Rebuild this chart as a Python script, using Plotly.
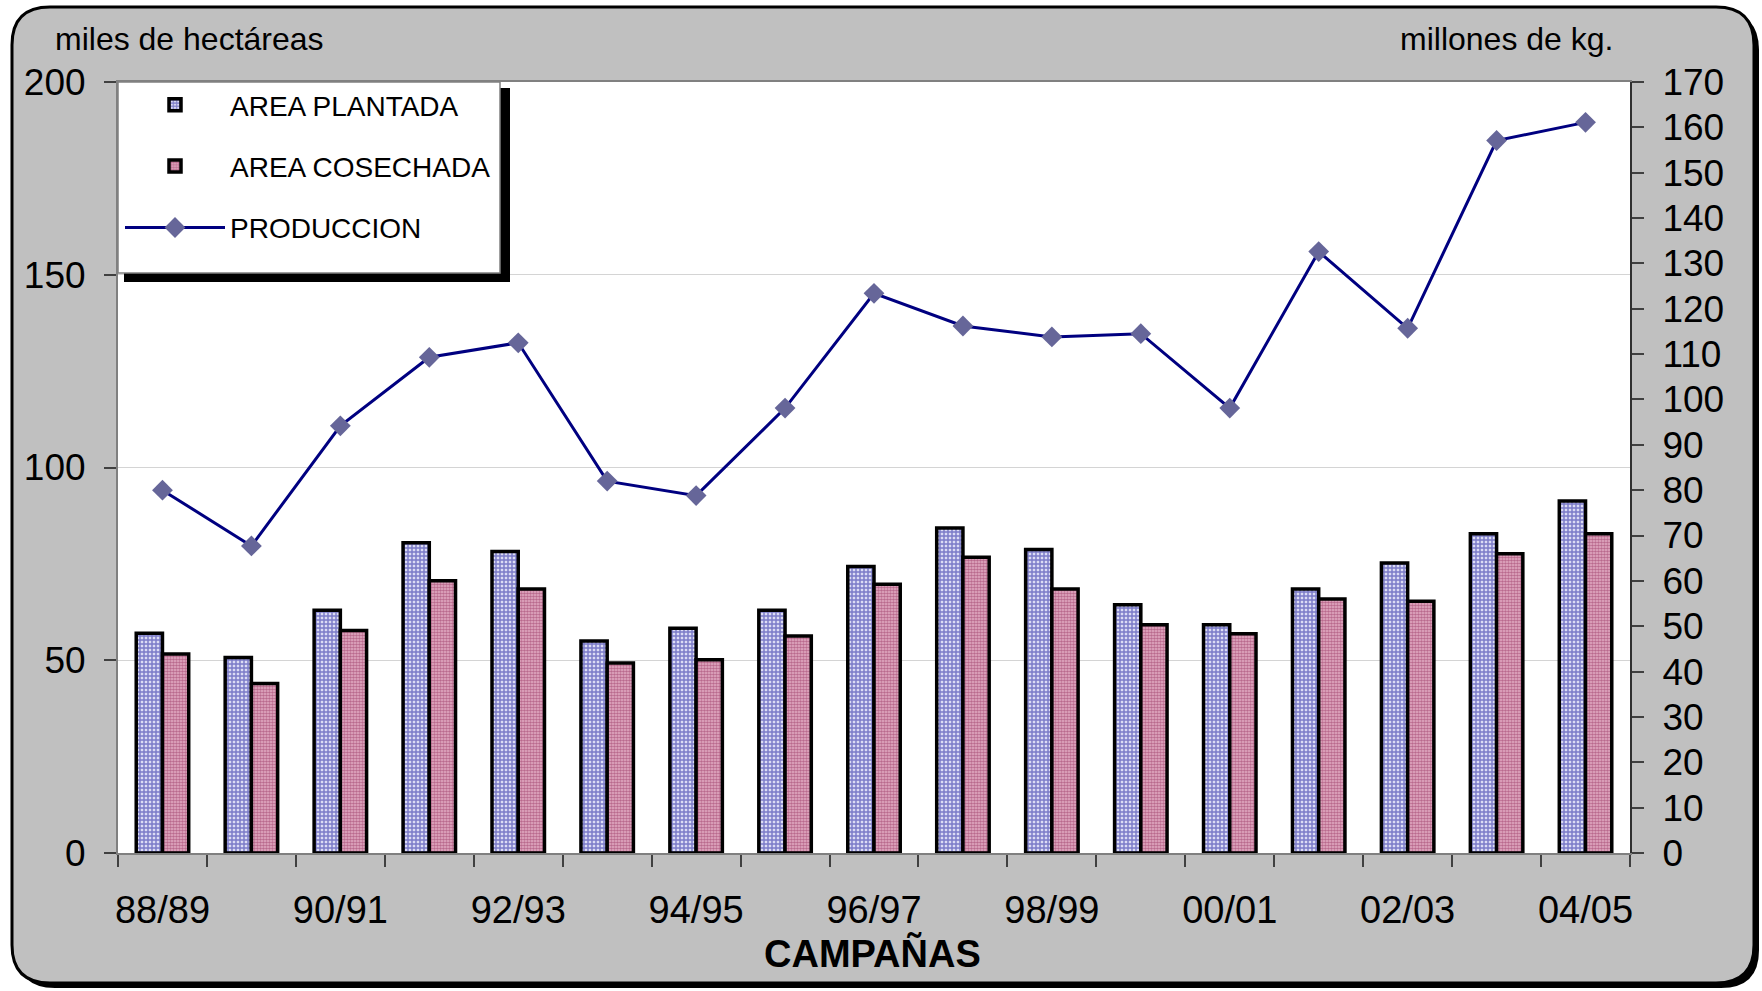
import plotly.graph_objects as go

categories = ["88/89", "89/90", "90/91", "91/92", "92/93", "93/94", "94/95", "95/96",
              "96/97", "97/98", "98/99", "99/00", "00/01", "01/02", "02/03", "03/04", "04/05"]
area_plantada = [57, 50.7, 63, 80.5, 78.2, 55, 58.3, 63, 74.3, 84.3, 78.7, 64.4, 59.2, 68.5, 75.2, 82.8, 91.3]
area_cosechada = [51.6, 44, 57.7, 70.6, 68.5, 49.3, 50.1, 56.3, 69.7, 76.7, 68.5, 59.2, 56.9, 65.9, 65.3, 77.6, 82.8]
produccion = [80, 67.7, 94.2, 109.3, 112.5, 82, 78.8, 98.1, 123.4, 116.2, 113.8, 114.5, 98.1, 132.6, 115.7, 157.1, 161.1]

W, H = 1762, 991
L, R, T, B = 118, 1630, 82, 853

def px2p(x, y):
    return (x - L) / (R - L), (B - y) / (B - T)

def rrect(x0, y0, x1, y1, r):
    def P(x, y):
        a, b = px2p(x, y)
        return f"{a:.5f},{b:.5f}"
    return (f"M {P(x0 + r, y0)} L {P(x1 - r, y0)} Q {P(x1, y0)} {P(x1, y0 + r)} "
            f"L {P(x1, y1 - r)} Q {P(x1, y1)} {P(x1 - r, y1)} "
            f"L {P(x0 + r, y1)} Q {P(x0, y1)} {P(x0, y1 - r)} "
            f"L {P(x0, y0 + r)} Q {P(x0, y0)} {P(x0 + r, y0)} Z")

def prect(x0, y0, x1, y1):
    a0, b0 = px2p(x0, y1)
    a1, b1 = px2p(x1, y0)
    return dict(x0=a0, y0=b0, x1=a1, y1=b1)

xs = list(range(len(categories)))
font = "Liberation Sans, Arial, sans-serif"

fig = go.Figure()
fig.add_trace(go.Bar(
    x=xs, y=area_plantada, name="AREA PLANTADA", legendgroup="a",
    marker=dict(color="#ffffff", line=dict(color="#000000", width=3.5),
                pattern=dict(shape="+", fgcolor="#1a1a9c", bgcolor="#dcdcf4", size=4, solidity=0.6)),
))
fig.add_trace(go.Bar(
    x=xs, y=area_cosechada, name="AREA COSECHADA", legendgroup="b",
    marker=dict(color="#ffffff", line=dict(color="#000000", width=3.5),
                pattern=dict(shape=".", fgcolor="#8b2252", bgcolor="#e6b2c8", size=3, solidity=0.6)),
))
fig.add_trace(go.Scatter(
    x=xs, y=produccion, name="PRODUCCION", legendgroup="c", yaxis="y2",
    mode="lines+markers",
    line=dict(color="#000080", width=3),
    marker=dict(symbol="diamond", size=16, color="#666699"),
))

shapes = []
shapes.append(dict(type="path", path=rrect(17, 12, 1759, 988, 38), xref="paper", yref="paper",
                   fillcolor="#000000", line=dict(color="#000000", width=0), layer="below"))
shapes.append(dict(type="path", path=rrect(12, 7, 1754, 983, 38), xref="paper", yref="paper",
                   fillcolor="#c0c0c0", line=dict(color="#000000", width=3), layer="below"))
shapes.append(dict(type="rect", xref="paper", yref="paper", fillcolor="#ffffff",
                   line=dict(width=0), layer="below", **prect(L, T, R, B)))
shapes.append(dict(type="rect", xref="paper", yref="paper", fillcolor="#000000",
                   line=dict(width=0), layer="above", **prect(124, 88, 510, 282)))
shapes.append(dict(type="rect", xref="paper", yref="paper", fillcolor="#ffffff",
                   line=dict(color="#808080", width=1.5), layer="above", **prect(118, 82, 500, 273)))

annotations = [
    dict(text="miles de hectáreas", x=px2p(189, 0)[0], y=px2p(0, 39)[1], xref="paper", yref="paper",
         showarrow=False, font=dict(size=32, color="#000000", family=font), xanchor="center", yanchor="middle"),
    dict(text="millones de kg.", x=px2p(1506, 0)[0], y=px2p(0, 39)[1], xref="paper", yref="paper",
         showarrow=False, font=dict(size=32, color="#000000", family=font), xanchor="center", yanchor="middle"),
    dict(text="<b>CAMPAÑAS</b>", x=px2p(872, 0)[0], y=px2p(0, 953)[1], xref="paper", yref="paper",
         showarrow=False, font=dict(size=38, color="#000000", family=font), xanchor="center", yanchor="middle"),
]

fig.update_layout(
    width=W, height=H,
    margin=dict(l=L, r=W - R, t=T, b=H - B, pad=0),
    paper_bgcolor="rgba(0,0,0,0)", plot_bgcolor="rgba(0,0,0,0)",
    barmode="group", bargap=0.41, bargroupgap=0,
    font=dict(family=font, color="#000000"),
    showlegend=True,
    legend=dict(x=px2p(120, 0)[0], y=px2p(0, 80)[1], xanchor="left", yanchor="top",
                bgcolor="rgba(0,0,0,0)", borderwidth=0, traceorder="grouped",
                tracegroupgap=22, itemwidth=100,
                font=dict(size=28, family=font, color="#000000")),
    shapes=shapes, annotations=annotations,
    xaxis=dict(range=[-0.5, len(categories) - 0.5], tickvals=xs[::2], ticktext=categories[::2],
               ticks="", tickfont=dict(size=38), showgrid=False, zeroline=False,
               showline=True, linecolor="#808080", linewidth=2, mirror=True,
               minor=dict(tick0=-0.5, dtick=1, ticks="outside", ticklen=12, tickcolor="#404040", tickwidth=1.5, showgrid=False),
               ticklabelstandoff=22),
    yaxis=dict(range=[0, 200], dtick=50, ticks="outside", ticklen=12, tickcolor="#404040", tickwidth=1.5,
               tickfont=dict(size=37), showgrid=True, gridcolor="#d4d4d4", gridwidth=1,
               zeroline=False, showline=True, linecolor="#808080", linewidth=2, ticklabelstandoff=11),
    yaxis2=dict(range=[0, 170], dtick=10, overlaying="y", side="right", ticks="outside", ticklen=12,
                tickcolor="#404040", tickwidth=1.5, tickfont=dict(size=37), showgrid=False, zeroline=False,
                showline=True, linecolor="#303030", linewidth=2, ticklabelstandoff=11),
)

fig.write_html("out.html", config={"displayModeBar": False},
               post_script="document.body.style.margin='0';document.body.style.overflow='hidden';")
